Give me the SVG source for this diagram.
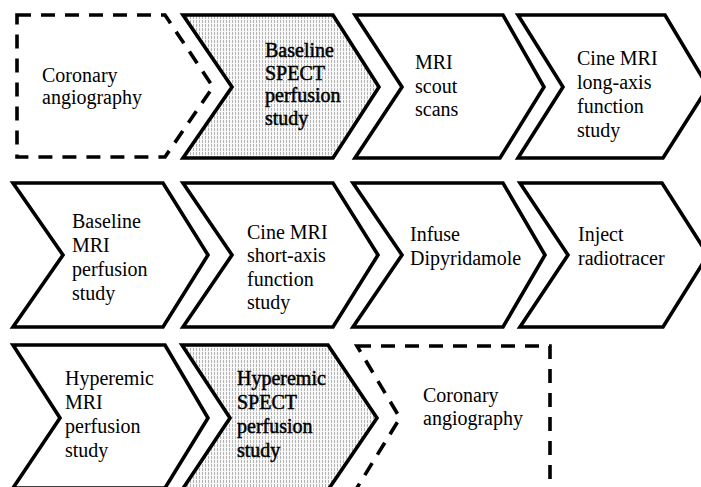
<svg xmlns="http://www.w3.org/2000/svg" width="701" height="487" viewBox="0 0 701 487">
<defs>
<pattern id="stip" width="3" height="4" patternUnits="userSpaceOnUse">
<rect width="3" height="4" fill="#f8f8f8"/>
<rect x="1" y="0" width="1" height="3" fill="#b4b4b4"/>
</pattern>
<style>
.ch{fill:#fff;stroke:#000;stroke-width:3.6;stroke-linejoin:miter}
.sh{fill:url(#stip);stroke:#000;stroke-width:3.6}
.da{fill:#fff;stroke:#000;stroke-width:3.6;stroke-dasharray:14 10}
text{font-family:"Liberation Serif","Times New Roman",serif;font-size:20px;fill:#000}
.b{stroke:#000;stroke-width:0.5}
</style>
</defs>
<rect width="701" height="487" fill="#fff"/>
<g id="connectors"></g>
<g id="n1"><path class="da" d="M17,15 H165 L213,87 L165,157 H17 Z"/>
<text x="42" y="82">Coronary</text><text x="42" y="104">angiography</text></g>
<g id="n2"><path class="sh" d="M183,15 H333 L379,87 L333,158 H183 L232,87 Z"/>
<text class="b" x="265" y="57">Baseline</text><text class="b" x="265" y="80">SPECT</text><text class="b" x="265" y="102">perfusion</text><text class="b" x="265" y="125">study</text></g>
<g id="n3"><path class="ch" d="M355,15 H503 L544,87 L500,158 H355 L402,87 Z"/>
<text x="415" y="69">MRI</text><text x="415" y="93">scout</text><text x="415" y="116">scans</text></g>
<g id="n4"><path class="ch" d="M518,15 H665 L708,87 L663,158 H518 L563,87 Z"/>
<text x="577" y="65">Cine MRI</text><text x="577" y="89">long-axis</text><text x="577" y="113">function</text><text x="577" y="137">study</text></g>
<g id="n5"><path class="ch" d="M13,183 H163 L208,255 L163,327 H13 L63,255 Z"/>
<text x="72" y="228">Baseline</text><text x="72" y="252">MRI</text><text x="72" y="276">perfusion</text><text x="72" y="300">study</text></g>
<g id="n6"><path class="ch" d="M183,183 H333 L378,255 L333,327 H183 L232,255 Z"/>
<text x="247" y="239">Cine MRI</text><text x="247" y="262">short-axis</text><text x="247" y="286">function</text><text x="247" y="309">study</text></g>
<g id="n7"><path class="ch" d="M353,183 H503 L545,255 L503,327 H353 L402,255 Z"/>
<text x="410" y="241">Infuse</text><text x="410" y="265">Dipyridamole</text></g>
<g id="n8"><path class="ch" d="M520,183 H662 L708,255 L663,327 H520 L568,255 Z"/>
<text x="578" y="241">Inject</text><text x="578" y="265">radiotracer</text></g>
<g id="n9"><path class="ch" d="M13,345 H165 L208,418 L165,488 H13 L60,418 Z"/>
<text x="65" y="385">Hyperemic</text><text x="65" y="409">MRI</text><text x="65" y="433">perfusion</text><text x="65" y="457">study</text></g>
<g id="n10"><path class="sh" d="M182,345 H328 L377,418 L328,490 H182 L230,418 Z"/>
<text class="b" x="237" y="385">Hyperemic</text><text class="b" x="237" y="409">SPECT</text><text class="b" x="237" y="433">perfusion</text><text class="b" x="237" y="457">study</text></g>
<g id="n11"><path class="da" d="M357,346 H550 V500 H350 L355,491 L400,418 Z"/>
<text x="423" y="402">Coronary</text><text x="423" y="425">angiography</text></g>
</svg>
